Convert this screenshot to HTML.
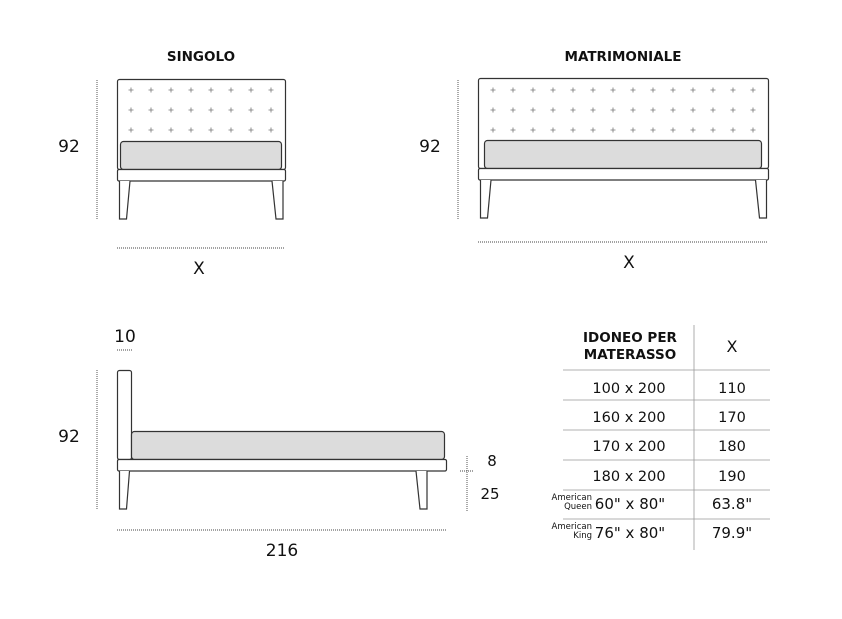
<!DOCTYPE html>
<html><head><meta charset="utf-8"><style>
html,body{margin:0;padding:0;background:#fff;width:842px;height:619px;overflow:hidden}
svg{display:block}
text{font-family:"DejaVu Sans","Liberation Sans",sans-serif;fill:#111}
</style></head><body>
<svg width="842" height="619" viewBox="0 0 842 619" xmlns="http://www.w3.org/2000/svg">
<defs>
<g id="cr"><path d="M-2.5 0H2.5M0 -2.5V2.5" stroke="#777" stroke-width="0.8"/></g>
</defs>
<g font-size="13.5" text-anchor="middle">
<text x="201" y="61" font-weight="600" font-size="13.5">SINGOLO</text>
<text x="623" y="61" font-weight="600" font-size="13.5">MATRIMONIALE</text>
</g>
<!-- SINGOLO -->
<g stroke="#333" stroke-width="1.2" fill="#fff">
<rect x="117.5" y="79.5" width="168" height="90" rx="2"/>
<rect x="120.5" y="141.5" width="161" height="28" rx="3" fill="#dcdcdc"/>
<rect x="117.5" y="169.5" width="168" height="11.5" rx="1.5"/>
<path d="M119.5 181V219H126.5L130 181"/>
<path d="M283 181V219H276L272 181"/>
</g>
<g>
<use href="#cr" x="131" y="90"/><use href="#cr" x="151" y="90"/><use href="#cr" x="171" y="90"/><use href="#cr" x="191" y="90"/><use href="#cr" x="211" y="90"/><use href="#cr" x="231" y="90"/><use href="#cr" x="251" y="90"/><use href="#cr" x="271" y="90"/>
<use href="#cr" x="131" y="110"/><use href="#cr" x="151" y="110"/><use href="#cr" x="171" y="110"/><use href="#cr" x="191" y="110"/><use href="#cr" x="211" y="110"/><use href="#cr" x="231" y="110"/><use href="#cr" x="251" y="110"/><use href="#cr" x="271" y="110"/>
<use href="#cr" x="131" y="130"/><use href="#cr" x="151" y="130"/><use href="#cr" x="171" y="130"/><use href="#cr" x="191" y="130"/><use href="#cr" x="211" y="130"/><use href="#cr" x="231" y="130"/><use href="#cr" x="251" y="130"/><use href="#cr" x="271" y="130"/>
</g>
<g stroke="#444" stroke-width="0.9" stroke-dasharray="1 1">
<line x1="97" y1="80" x2="97" y2="220"/>
<line x1="117" y1="248" x2="285" y2="248"/>
<line x1="458" y1="80" x2="458" y2="220"/>
<line x1="478" y1="242" x2="768" y2="242"/>
<line x1="97" y1="370" x2="97" y2="510"/>
<line x1="117" y1="530" x2="446" y2="530"/>
<line x1="117" y1="350" x2="133" y2="350"/>
<line x1="467" y1="456" x2="467" y2="511"/>
<line x1="460" y1="471" x2="474" y2="471"/>
</g>
<g font-size="17" text-anchor="middle">
<text x="69" y="152">92</text>
<text x="199" y="274">X</text>
<text x="430" y="152">92</text>
<text x="629" y="268">X</text>
<text x="69" y="442">92</text>
<text x="125" y="342">10</text>
<text x="282" y="556">216</text>
<text x="492" y="466" font-size="15">8</text>
<text x="490" y="499" font-size="15">25</text>
</g>
<!-- MATRIMONIALE -->
<g stroke="#333" stroke-width="1.2" fill="#fff">
<rect x="478.5" y="78.5" width="290" height="90" rx="2"/>
<rect x="484.5" y="140.5" width="277" height="28" rx="3" fill="#dcdcdc"/>
<rect x="478.5" y="168.5" width="290" height="11.5" rx="1.5"/>
<path d="M480.5 180V218H487.5L491 180"/>
<path d="M766.5 180V218H759.5L755.5 180"/>
</g>
<g id="mrow">
<use href="#cr" x="493" y="90"/><use href="#cr" x="513" y="90"/><use href="#cr" x="533" y="90"/><use href="#cr" x="553" y="90"/><use href="#cr" x="573" y="90"/><use href="#cr" x="593" y="90"/><use href="#cr" x="613" y="90"/><use href="#cr" x="633" y="90"/><use href="#cr" x="653" y="90"/><use href="#cr" x="673" y="90"/><use href="#cr" x="693" y="90"/><use href="#cr" x="713" y="90"/><use href="#cr" x="733" y="90"/><use href="#cr" x="753" y="90"/>
</g>
<use href="#mrow" y="20"/><use href="#mrow" y="40"/>
<!-- SIDE -->
<g stroke="#333" stroke-width="1.2" fill="#fff">
<rect x="117.5" y="370.5" width="14" height="89" rx="2"/>
<rect x="131.5" y="431.5" width="313" height="28" rx="3" fill="#dcdcdc"/>
<rect x="117.5" y="459.5" width="329" height="11.5" rx="1.5"/>
<path d="M119.5 471V509H126.5L129.5 471"/>
<path d="M427 471V509H420L416 471"/>
</g>
<!-- TABLE -->
<g stroke="#999" stroke-width="0.8">
<line x1="694" y1="325" x2="694" y2="550"/>
<line x1="563" y1="370" x2="770" y2="370"/>
<line x1="563" y1="400" x2="770" y2="400"/>
<line x1="563" y1="430" x2="770" y2="430"/>
<line x1="563" y1="460" x2="770" y2="460"/>
<line x1="563" y1="490" x2="770" y2="490"/>
<line x1="563" y1="519" x2="770" y2="519"/>
</g>
<g font-size="14.5" text-anchor="middle">
<text x="630" y="342" font-weight="600" font-size="13.5">IDONEO PER</text>
<text x="630" y="359" font-weight="600" font-size="13.5">MATERASSO</text>
<text x="732" y="352" font-size="16">X</text>
<text x="629" y="393">100 x 200</text>
<text x="732" y="393">110</text>
<text x="629" y="422">160 x 200</text>
<text x="732" y="422">170</text>
<text x="629" y="451">170 x 200</text>
<text x="732" y="451">180</text>
<text x="629" y="481">180 x 200</text>
<text x="732" y="481">190</text>
<text x="630" y="509" font-size="15">60" x 80"</text>
<text x="732" y="509" font-size="15">63.8"</text>
<text x="630" y="538" font-size="15">76" x 80"</text>
<text x="732" y="538" font-size="15">79.9"</text>
</g>
<g font-size="8.5" text-anchor="end">
<text x="592" y="500">American</text>
<text x="592" y="509">Queen</text>
<text x="592" y="529">American</text>
<text x="592" y="538">King</text>
</g>
</svg>
</body></html>
